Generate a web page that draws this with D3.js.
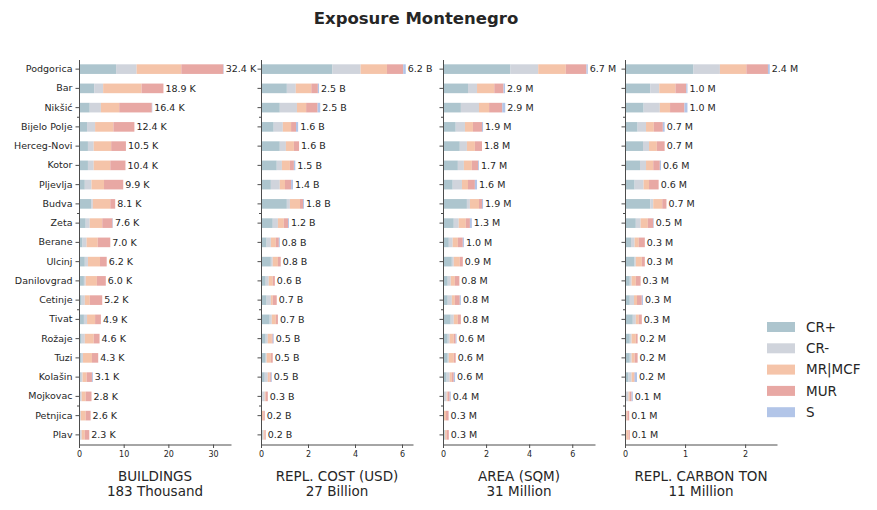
<!DOCTYPE html>
<html lang="en">
<head>
<meta charset="UTF-8">
<title>Exposure Montenegro</title>
<style>
body { margin: 0; background: #fff; }
svg text { font-family: "DejaVu Sans", sans-serif; fill: #262626; }
.axis path, .axis line { stroke: #4d4d4d; }
</style>
</head>
<body>
<svg width="877" height="510"></svg>
<script src="https://cdn.jsdelivr.net/npm/d3@7"></script>
<script>
// categories
var cities = ['Podgorica', 'Bar', 'Nikšić', 'Bijelo Polje', 'Herceg-Novi', 'Kotor', 'Pljevlja', 'Budva', 'Zeta', 'Berane',
    'Ulcinj', 'Danilovgrad', 'Cetinje', 'Tivat', 'Rožaje', 'Tuzi', 'Kolašin', 'Mojkovac', 'Petnjica', 'Plav'];
var classes = ['CR+', 'CR-', 'MR|MCF', 'MUR', 'S'];
var colors = ['#adc5ce', '#d0d4dc', '#f5c4a9', '#e8a8a4', '#b2c5e8'];

// buildings (thousand), per class
var bldCRp = [8.3, 3.4, 2.4, 1.8, 2.0, 2.0, 1.3, 2.7, 1.5, 0.8, 1.3, 1.1, 0.6, 1.1, 0.6, 0.6, 0.4, 0.2, 0.1, 0.3];
var bldCRm = [4.6, 2.0, 2.5, 1.8, 1.3, 1.3, 1.5, 0.4, 0.9, 0.9, 0.7, 0.4, 0.7, 0.7, 0.7, 0.3, 0.4, 0.4, 0.3, 0.3];
var bldMR  = [10.0, 8.6, 4.1, 4.1, 3.9, 3.7, 2.8, 3.9, 2.8, 2.5, 2.7, 2.5, 1.1, 1.8, 2.0, 2.0, 0.9, 0.9, 1.1, 0.7];
var bldMUR = [9.4, 4.9, 7.3, 4.7, 3.3, 3.4, 4.3, 1.1, 2.3, 2.8, 1.5, 2.0, 2.8, 1.3, 1.3, 1.4, 1.2, 1.3, 1.1, 1.0];
var bldS   = [0.1, 0, 0.1, 0, 0, 0, 0, 0, 0.1, 0, 0, 0, 0, 0, 0, 0, 0.2, 0, 0, 0];

// replacement cost (billion USD)
var costCRp = [3.04, 1.10, 0.80, 0.54, 0.80, 0.67, 0.42, 1.10, 0.50, 0.24, 0.42, 0.20, 0.24, 0.37, 0.20, 0.20, 0.16, 0.05, 0.02, 0.07];
var costCRm = [1.20, 0.38, 0.73, 0.39, 0.26, 0.22, 0.38, 0.13, 0.22, 0.18, 0.08, 0.13, 0.18, 0.09, 0.09, 0.04, 0.13, 0.11, 0.02, 0.04];
var costMR  = [1.12, 0.66, 0.39, 0.35, 0.34, 0.34, 0.22, 0.43, 0.25, 0.21, 0.22, 0.17, 0.08, 0.17, 0.17, 0.18, 0.08, 0.04, 0.06, 0.05];
var costMUR = [0.69, 0.28, 0.49, 0.21, 0.22, 0.17, 0.26, 0.13, 0.18, 0.13, 0.12, 0.09, 0.17, 0.09, 0.04, 0.08, 0.05, 0.09, 0.06, 0.04];
var costS   = [0.11, 0.05, 0.11, 0.09, 0, 0.06, 0.08, 0.04, 0.04, 0.04, 0, 0, 0, 0, 0.04, 0, 0.04, 0, 0, 0];

// area (million sqm)
var areaCRp = [3.13, 1.16, 0.83, 0.59, 0.78, 0.69, 0.45, 1.11, 0.50, 0.27, 0.41, 0.22, 0.22, 0.36, 0.22, 0.22, 0.17, 0.03, 0.02, 0.08];
var areaCRm = [1.29, 0.42, 0.84, 0.43, 0.33, 0.28, 0.43, 0.14, 0.23, 0.18, 0.09, 0.14, 0.19, 0.14, 0.09, 0.05, 0.14, 0.14, 0.03, 0.02];
var areaMR  = [1.28, 0.80, 0.47, 0.37, 0.37, 0.37, 0.28, 0.42, 0.33, 0.24, 0.28, 0.19, 0.14, 0.19, 0.19, 0.23, 0.10, 0.05, 0.09, 0.07];
var areaMUR = [0.96, 0.43, 0.61, 0.42, 0.33, 0.29, 0.32, 0.14, 0.19, 0.23, 0.14, 0.21, 0.23, 0.14, 0.09, 0.09, 0.09, 0.09, 0.12, 0.10];
var areaS   = [0.06, 0.07, 0.14, 0.05, 0, 0.04, 0.10, 0.05, 0.09, 0.05, 0, 0, 0.05, 0, 0.04, 0, 0.06, 0.05, 0, 0];

// replacement carbon (million ton)
var co2CRp = [1.14, 0.42, 0.31, 0.21, 0.30, 0.25, 0.16, 0.42, 0.18, 0.10, 0.16, 0.08, 0.08, 0.13, 0.08, 0.08, 0.06, 0.01, 0.01, 0.01];
var co2CRm = [0.44, 0.15, 0.27, 0.14, 0.10, 0.10, 0.15, 0.05, 0.08, 0.06, 0.02, 0.03, 0.07, 0.05, 0.03, 0.03, 0.05, 0.05, 0.01, 0.01];
var co2MR  = [0.44, 0.27, 0.17, 0.13, 0.13, 0.12, 0.09, 0.15, 0.12, 0.07, 0.10, 0.07, 0.05, 0.05, 0.07, 0.05, 0.04, 0.02, 0.02, 0.04];
var co2MUR = [0.36, 0.18, 0.24, 0.15, 0.13, 0.11, 0.16, 0.07, 0.09, 0.10, 0.05, 0.08, 0.08, 0.05, 0.03, 0.05, 0.01, 0.03, 0.03, 0.02];
var co2S   = [0.03, 0.02, 0.05, 0.03, 0, 0.02, 0, 0, 0.01, 0, 0, 0, 0.02, 0, 0, 0, 0.04, 0.02, 0, 0];

var panelTitles = ['BUILDINGS', 'REPL. COST (USD)', 'AREA (SQM)', 'REPL. CARBON TON'];
var panelTotals = ['183 Thousand', '27 Billion', '31 Million', '11 Million'];
var panelUnits = ['K', 'B', 'M', 'M'];
var panelTicks = [[0, 10, 20, 30], [0, 2, 4, 6], [0, 2, 4, 6], [0, 1, 2]];

var panels = [
    [bldCRp, bldCRm, bldMR, bldMUR, bldS],
    [costCRp, costCRm, costMR, costMUR, costS],
    [areaCRp, areaCRm, areaMR, areaMUR, areaS],
    [co2CRp, co2CRm, co2MR, co2MUR, co2S]
];

var svg = d3.select('svg');

svg.append('text')
    .attr('x', 416).attr('y', 24)
    .attr('text-anchor', 'middle')
    .style('font-size', '16.5px').style('font-weight', 'bold')
    .text('Exposure Montenegro');

var plotTop = 59.5, plotBottom = 444.5, pw = 152;
var lefts = [79, 261, 443, 625];

var y = d3.scaleBand().domain(cities).range([plotTop, plotBottom]).paddingInner(0.5).paddingOuter(0.25);

panels.forEach(function(series, p) {
    // rows for the stack
    var rows = cities.map(function(c, i) {
        var r = { city: c };
        classes.forEach(function(k, j) { r[k] = series[j][i]; });
        return r;
    });
    var total = function(r) { return d3.sum(classes, function(k) { return r[k]; }); };
    var stacked = d3.stack().keys(classes)(rows);
    var maxTotal = d3.max(rows, total);

    var x = d3.scaleLinear().domain([0, maxTotal * 1.05]).range([0, pw]);

    var g = svg.append('g').attr('transform', 'translate(' + lefts[p] + ',0)');

    g.selectAll('.layer')
        .data(stacked)
        .enter().append('g')
        .attr('class', 'layer')
        .attr('fill', function(d, j) { return colors[j]; })
        .selectAll('rect')
        .data(function(d) { return d; })
        .enter().append('rect')
        .attr('x', function(d) { return x(d[0]); })
        .attr('y', function(d) { return y(d.data.city); })
        .attr('width', function(d) { return Math.max(0, x(d[1]) - x(d[0])); })
        .attr('height', y.bandwidth());

    // value labels
    g.selectAll('.val')
        .data(rows)
        .enter().append('text')
        .attr('class', 'val')
        .attr('x', function(r) { return x(total(r)) + 2; })
        .attr('y', function(r) { return y(r.city) + y.bandwidth() / 2; })
        .attr('dy', '0.35em')
        .style('font-size', '9.5px')
        .text(function(r) { return total(r).toFixed(1) + ' ' + panelUnits[p]; });

    // y axis
    var yAxis = g.append('g').attr('class', 'axis')
        .call(d3.axisLeft(y).tickSize(3.5).tickPadding(3).tickSizeOuter(0));
    yAxis.selectAll('text').style('font-size', '9.5px').attr('fill', '#262626');
    if (p > 0) yAxis.selectAll('text').remove();
    // minor ticks
    var step = y.step();
    [2.5, 7.5, 12.5, 17.5].forEach(function(k) {
        var yy = y(cities[0]) + y.bandwidth() / 2 + k * step;
        yAxis.append('line').attr('x1', -2).attr('x2', 0).attr('y1', yy).attr('y2', yy)
            .attr('stroke', '#4d4d4d');
    });

    // x axis
    var xAxis = g.append('g').attr('class', 'axis')
        .attr('transform', 'translate(0,' + plotBottom + ')')
        .call(d3.axisBottom(x).tickValues(panelTicks[p]).tickFormat(d3.format('d'))
            .tickSize(3.5).tickPadding(3).tickSizeOuter(0));
    xAxis.selectAll('text').style('font-size', '8px').attr('fill', '#262626');

    g.append('text')
        .attr('x', pw / 2).attr('y', 481)
        .attr('text-anchor', 'middle').style('font-size', '13.5px')
        .text(panelTitles[p]);
    g.append('text')
        .attr('x', pw / 2).attr('y', 496)
        .attr('text-anchor', 'middle').style('font-size', '13.5px')
        .text(panelTotals[p]);
});

// legend
var legend = svg.append('g').attr('transform', 'translate(767,327)');
var li = legend.selectAll('g').data(classes).enter().append('g')
    .attr('transform', function(d, i) { return 'translate(0,' + (i * 21.3) + ')'; });
li.append('rect').attr('width', 28).attr('height', 10).attr('y', -5)
    .attr('fill', function(d, i) { return colors[i]; });
li.append('text').attr('x', 39).attr('dy', '0.35em')
    .style('font-size', '13.5px')
    .text(function(d) { return d; });
</script>
</body>
</html>
